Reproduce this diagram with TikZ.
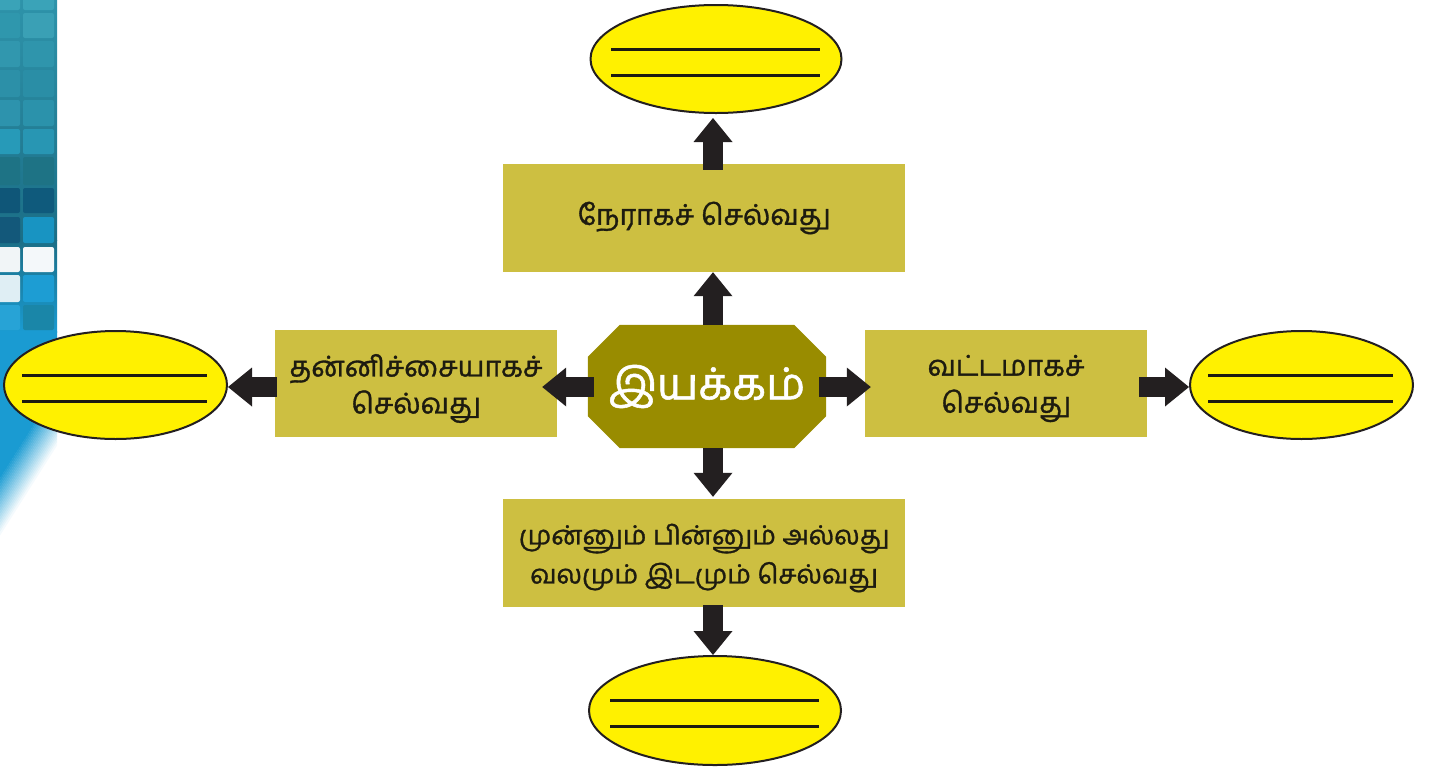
\documentclass[tikz,border=0pt]{standalone}
\usepackage{fontspec}
\newfontfamily\tamil[Script=Tamil,FakeBold=1.2]{Hind Madurai}
\usetikzlibrary{shapes.geometric,arrows.meta,backgrounds,calc}

\definecolor{boxfill}{HTML}{CDBF41}
\definecolor{octfill}{HTML}{998C00}
\definecolor{ellfill}{HTML}{FFF100}
\definecolor{arrowcol}{HTML}{231F20}
\definecolor{inkcol}{HTML}{1D1B10}
\definecolor{stripA}{HTML}{2E93AA}
\definecolor{stripB}{HTML}{1B6E86}
\definecolor{stripC}{HTML}{1A9BD2}

% lower one line of a label without changing the label's size
\newcommand{\dropline}[1]{\raisebox{-5pt}[\height][\depth]{#1}}

\tikzset{
  labelbox/.style={rectangle, fill=boxfill, inner sep=0pt, align=center,
    text=inkcol, font=\tamil\fontsize{28.5}{37}\selectfont},
  answerslot/.style={ellipse, draw=arrowcol, line width=2pt, fill=ellfill, inner sep=0pt},
  blockarrow/.style={draw=arrowcol, line width=20pt,
    -{Triangle[length=24pt,width=39pt,line width=0pt]}},
  slotline/.style={draw=inkcol, line width=3pt},
  tile/.style={rounded corners=2pt},
}

\begin{document}
\begin{tikzpicture}[x=1pt,y=-1pt]
\useasboundingbox (0,0) rectangle (1432,769);

% decorative tiled strip on the left edge
\shade[top color=stripA, bottom color=stripB] (0,0) rectangle (57,240);
\shade[top color=stripB, bottom color=stripC] (0,240) rectangle (57,332);
\begin{scope}
  \clip (0,331) rectangle (57,620);
  \fill[stripC] (0,331) -- (57,331) -- (57,386) -- (0,476) -- cycle;
  % slanted bands fading the strip out towards the lower left
  \foreach \i in {0,...,19}{
    \pgfmathsetmacro{\a}{385+3*\i}
    \pgfmathsetmacro{\p}{100-5*\i}
    \fill[stripC!\p!white] (57,\a) -- (57,\a+3.6) -- (0,\a+93.6) -- (0,\a+90) -- cycle;
  }
\end{scope}
\foreach \ya/\yb/\cl/\cr in {
   -5/10/3AA3B8/3AA3B8,
   13/38/2F97AD/3AA0B5,
   41/67/3197AE/2F95AC,
   70/97/2C90A8/2A8EA6,
   100/126/2D93AD/2B92AB,
   129/154/279AB8/2896B3,
   157/185/1E7385/1E7385,
   188/213/0F5678/0F5A7C,
   217/243/13587A/1894C2,
   247/272/F1F5F7/F4F8FA,
   275/302/DFEEF4/1D9DD3,
   305/330/27A3D6/1A86A8}{
  \definecolor{tl}{HTML}{\cl}\definecolor{tr}{HTML}{\cr}
  \fill[tile, tl] (-3,\ya) rectangle (20,\yb);
  \fill[tile, tr] (23,\ya) rectangle (54,\yb);
}

% central node
\node[inner sep=0pt, minimum width=238pt, minimum height=123pt, text=white,
  font=\tamil\fontsize{44}{50}\selectfont] (oct) at (707,386.5) {இயக்கம்};
\begin{scope}[on background layer]
  \fill[octfill]
    ($(oct.north west)+(32,0)$) -- ($(oct.north east)+(-32,0)$) --
    ($(oct.north east)+(0,32)$) -- ($(oct.south east)+(0,-32)$) --
    ($(oct.south east)+(-32,0)$) -- ($(oct.south west)+(32,0)$) --
    ($(oct.south west)+(0,-32)$) -- ($(oct.north west)+(0,32)$) -- cycle;
\end{scope}
\coordinate (axis) at (713,387);

% kinds of motion
\node[labelbox, minimum width=402pt, minimum height=108pt] (tbox) at (704,218)
  {நேராகச் செல்வது};
\node[labelbox, minimum width=282pt, minimum height=107pt] (lbox) at (416,383.5)
  {\dropline{தன்னிச்சையாகச்}\\\dropline{செல்வது}};
\node[labelbox, minimum width=282pt, minimum height=107pt] (rbox) at (1006,383.5)
  {\dropline{வட்டமாகச்}\\\dropline{செல்வது}};
\node[labelbox, minimum width=402pt, minimum height=108pt,
  font=\tamil\fontsize{26.5}{39}\selectfont] (bbox) at (704,553)
  {\dropline{முன்னும் பின்னும் அல்லது}\\\dropline{வலமும் இடமும் செல்வது}};

% answer ellipses
\node[answerslot, minimum width=251pt, minimum height=108pt] (tell) at (716,59) {};
\node[answerslot, minimum width=223pt, minimum height=108pt] (lell) at (115.5,385) {};
\node[answerslot, minimum width=223pt, minimum height=108pt] (rell) at (1301.5,385) {};
\node[answerslot, minimum width=252pt, minimum height=109pt] (bell) at (715,710.5) {};

\foreach \e/\l/\r in {tell/-105/104, bell/-105/104, lell/-93.5/91.5, rell/-93.5/91.5}{
  \draw[slotline] ([shift={(\l,-10)}]\e.center) -- ([shift={(\r,-10)}]\e.center);
  \draw[slotline] ([shift={(\l,16)}]\e.center) -- ([shift={(\r,16)}]\e.center);
}

% connectors
\draw[blockarrow] (oct.north -| axis) -- (tbox.south -| axis);
\draw[blockarrow, shorten <=-6pt, shorten >=4pt] (tbox.north -| axis) -- (tell.south -| axis);
\draw[blockarrow, shorten >=2pt] (oct.south -| axis) -- (bbox.north -| axis);
\draw[blockarrow, shorten <=-2pt] (bbox.south -| axis) -- (bell.north -| axis);
\draw[blockarrow, shorten <=-6pt, shorten >=-15pt] (oct.west |- axis) -- (lbox.east |- axis);
\draw[blockarrow, shorten <=-7pt, shorten >=-6pt] (oct.east |- axis) -- (rbox.west |- axis);
\draw[blockarrow, shorten <=-2pt] (lbox.west |- axis) -- (lell.east |- axis);
\draw[blockarrow, shorten <=-8pt] (rbox.east |- axis) -- (rell.west |- axis);
\end{tikzpicture}
\end{document}
